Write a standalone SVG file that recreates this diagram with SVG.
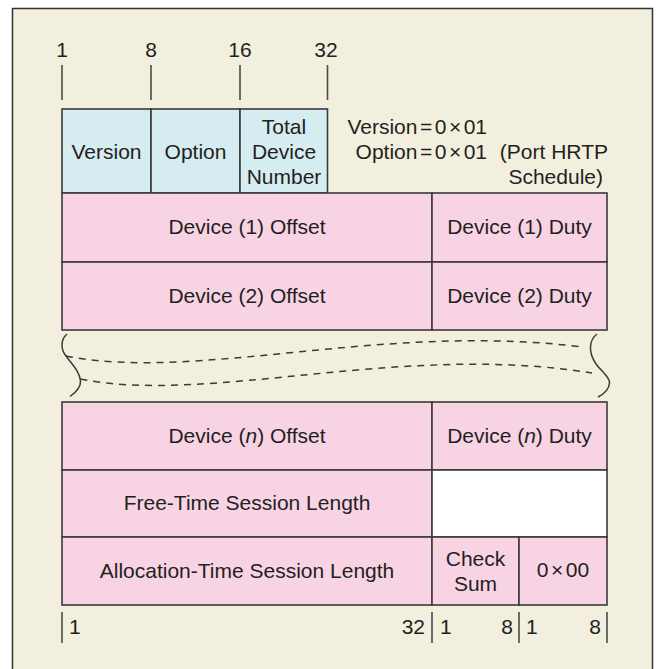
<svg xmlns="http://www.w3.org/2000/svg" width="656" height="669" viewBox="0 0 656 669">
  <style>
    text { font-family: "Liberation Sans", Arial, sans-serif; font-size: 21px; fill: #231f20; }
    .mid { text-anchor: middle; }
    .end { text-anchor: end; }
    .cell { stroke: #3a3a3a; stroke-width: 1.6; }
    .hdr { fill: #d5ecf0; }
    .fld { fill: #f8d3e4; }
    .blank { fill: #ffffff; }
    .tick { stroke: #4a4a4a; stroke-width: 1.6; fill: none; }
    .gap { stroke: #3a3a3a; stroke-width: 1.5; fill: none; }
    .dash { stroke: #3a3a3a; stroke-width: 1.5; fill: none; stroke-dasharray: 7 6; }
  </style>

  <!-- page -->
  <rect x="0" y="0" width="656" height="669" fill="#ffffff"/>
  <rect x="12.5" y="8.5" width="640" height="700" fill="#f2efdf" stroke="#333333" stroke-width="1.5"/>

  <!-- top bit scale -->
  <g id="scale-top">
    <text class="mid" x="62" y="57">1</text>
    <text class="mid" x="151" y="57">8</text>
    <text class="mid" x="240" y="57">16</text>
    <text class="mid" x="326" y="57">32</text>
    <line class="tick" x1="62" y1="65" x2="62" y2="100"/>
    <line class="tick" x1="151" y1="65" x2="151" y2="100"/>
    <line class="tick" x1="240" y1="65" x2="240" y2="100"/>
    <line class="tick" x1="327.5" y1="65" x2="327.5" y2="100"/>
  </g>

  <!-- header fields -->
  <g id="version">
    <rect class="cell hdr" x="62" y="109" width="89" height="84"/>
    <text class="mid" x="106.5" y="159">Version</text>
  </g>
  <g id="option">
    <rect class="cell hdr" x="151" y="109" width="89" height="84"/>
    <text class="mid" x="195.5" y="159">Option</text>
  </g>
  <g id="total-device-number">
    <rect class="cell hdr" x="240" y="109" width="87.5" height="84"/>
    <text class="mid" x="284" y="134">Total</text>
    <text class="mid" x="284" y="159">Device</text>
    <text class="mid" x="284" y="184">Number</text>
  </g>

  <!-- header notes -->
  <g id="header-notes">
    <text class="end" x="487" y="134">Version<tspan dx="2.5">=</tspan><tspan dx="2.5">0</tspan><tspan dx="2.5">×</tspan><tspan dx="2.5">01</tspan></text>
    <text class="end" x="487" y="159">Option<tspan dx="2.5">=</tspan><tspan dx="2.5">0</tspan><tspan dx="2.5">×</tspan><tspan dx="2.5">01</tspan></text>
    <text class="end" x="608" y="159">(Port HRTP</text>
    <text class="end" x="603" y="184">Schedule)</text>
  </g>

  <!-- device entries -->
  <g id="device1-offset">
    <rect class="cell fld" x="62" y="193" width="370" height="69"/>
    <text class="mid" x="247" y="234">Device (1) Offset</text>
  </g>
  <g id="device1-duty">
    <rect class="cell fld" x="432" y="193" width="175" height="69"/>
    <text class="mid" x="519.5" y="234">Device (1) Duty</text>
  </g>
  <g id="device2-offset">
    <rect class="cell fld" x="62" y="262" width="370" height="68"/>
    <text class="mid" x="247" y="302.5">Device (2) Offset</text>
  </g>
  <g id="device2-duty">
    <rect class="cell fld" x="432" y="262" width="175" height="68"/>
    <text class="mid" x="519.5" y="302.5">Device (2) Duty</text>
  </g>

  <!-- omitted entries -->
  <g id="ellipsis">
    <path class="gap" d="M67,334 C60,340 61,350 66,356 C72,364 80,372 80.5,381 C81,388 75,393 70,396.5"/>
    <path class="gap" d="M597,334 C589,340 588,352 596,364 C602,372 610,377 609.5,383 C609,390 604,394 598,397"/>
    <path class="dash" d="M66,356 C200,382 380,322 583,347"/>
    <path class="dash" d="M80.5,379 C210,405 400,342 592,373"/>
  </g>

  <g id="devicen-offset">
    <rect class="cell fld" x="62" y="402" width="370" height="68"/>
    <text class="mid" x="247" y="443">Device (<tspan font-style="italic">n</tspan>) Offset</text>
  </g>
  <g id="devicen-duty">
    <rect class="cell fld" x="432" y="402" width="175" height="68"/>
    <text class="mid" x="519.5" y="443">Device (<tspan font-style="italic">n</tspan>) Duty</text>
  </g>

  <!-- trailer fields -->
  <g id="free-time">
    <rect class="cell fld" x="62" y="470" width="370" height="67"/>
    <text class="mid" x="247" y="510">Free-Time Session Length</text>
  </g>
  <g id="free-time-pad">
    <rect class="cell blank" x="432" y="470" width="175" height="67"/>
  </g>
  <g id="allocation-time">
    <rect class="cell fld" x="62" y="537" width="370" height="68"/>
    <text class="mid" x="247" y="578">Allocation-Time Session Length</text>
  </g>
  <g id="check-sum">
    <rect class="cell fld" x="432" y="537" width="87" height="68"/>
    <text class="mid" x="475.5" y="566">Check</text>
    <text class="mid" x="475.5" y="591">Sum</text>
  </g>
  <g id="terminator">
    <rect class="cell fld" x="519" y="537" width="88" height="68"/>
    <text class="mid" x="563" y="577">0<tspan dx="2.5">×</tspan><tspan dx="2.5">00</tspan></text>
  </g>

  <!-- bottom bit scale -->
  <g id="scale-bottom">
    <line class="tick" x1="62" y1="612" x2="62" y2="643"/>
    <line class="tick" x1="432" y1="612" x2="432" y2="643"/>
    <line class="tick" x1="519" y1="612" x2="519" y2="643"/>
    <line class="tick" x1="607" y1="612" x2="607" y2="643"/>
    <text x="69" y="634">1</text>
    <text class="end" x="425" y="634">32</text>
    <text x="440" y="634">1</text>
    <text class="end" x="513" y="634">8</text>
    <text x="526" y="634">1</text>
    <text class="end" x="601" y="634">8</text>
  </g>
</svg>
